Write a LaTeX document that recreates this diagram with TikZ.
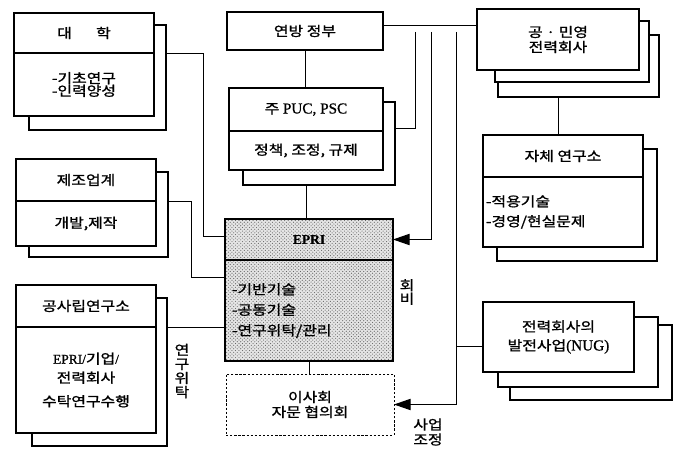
\documentclass[tikz,border=0pt]{standalone}
\usepackage{fontspec}
\setmainfont{Noto Sans CJK KR}[FakeStretch=1.18, FakeBold=1.2]
\newfontfamily\latfont{Liberation Serif}[FakeBold=0.8]
\newcommand{\lat}[1]{{\latfont #1}}
\usetikzlibrary{
  arrows.meta,
  positioning,
  calc,
  fit,
  patterns
}
\newlength{\pu}
\setlength{\pu}{0.3mm}
\tikzset{
  box/.style={
    draw, fill=white, line width=0.9pt, outer sep=0pt, inner sep=2pt,
    align=center, font=\fontsize{11.5}{14}\selectfont
  },
  backcard/.style={draw, fill=white, line width=0.9pt, inner sep=0pt, outer sep=0pt},
  dashbox/.style={box, dash pattern=on 2pt off 1.5pt, line width=0.8pt},
  epribox/.style={box, preaction={fill=black!10}, pattern=crosshatch dots, pattern color=black!60},
  lsep/.style={font=\fontsize{11.5}{#1}\selectfont},
  link/.style={line width=0.8pt},
  feed/.style={link, -{Triangle[length=5mm, width=3.4mm]}},
  tag/.style={align=center, inner sep=0pt, font=\fontsize{11.5}{14}\selectfont}
}

\begin{document}
\begin{tikzpicture}[x=0.3mm, y=-0.3mm]
  \useasboundingbox (0,0) rectangle (676,449);

  % cards behind the boxes
  \node[backcard, fit={(29,25) (166,130)}] (univ-bk) {};
  \node[backcard, fit={(29,172) (168,257)}] (maker-bk) {};
  \node[backcard, fit={(32,298) (167,446)}] (inst-bk) {};
  \node[backcard, fit={(243,102) (395,185)}] (puc-bk) {};
  \node[backcard, fit={(498,35) (659,97)}] (util-bk2) {};
  \node[backcard, fit={(495,21) (649,82)}] (util-bk1) {};
  \node[backcard, fit={(497,149) (657,261)}] (own-bk) {};
  \node[backcard, fit={(510,325) (672,400)}] (nug-bk2) {};
  \node[backcard, fit={(498,317) (658,387)}] (nug-bk1) {};

  % left column
  \node[box, minimum width=140\pu, minimum height=40\pu] (univ-h) at (84,33) {대\hspace{1.8em}학};
  \node[box, minimum width=140\pu, minimum height=63\pu, below=0pt of univ-h, lsep=10.8pt] (univ-b) {-기초연구\\-인력양성};

  \node[box, minimum width=140\pu, minimum height=42\pu] (maker-h) at (86,180) {제조업계};
  \node[box, minimum width=140\pu, minimum height=45\pu, below=0pt of maker-h] (maker-b) {개발,제작};

  \node[box, minimum width=140\pu, minimum height=42\pu] (inst-h) at (86,306) {공사립연구소};
  \node[box, minimum width=140\pu, minimum height=106\pu, below=0pt of inst-h, lsep=16.2pt] (inst-b) {\lat{EPRI/}기업\lat{/}\\전력회사\\[4pt]수탁연구수행};

  % middle column
  \node[box, minimum width=156\pu, minimum height=38\pu] (fed) at (305,31) {연방 정부};
  \node[box, minimum width=154\pu, minimum height=43\pu] (puc-h) at (306,109.5) {주 \lat{\fontsize{13}{14}\selectfont PUC, PSC}};
  \node[box, minimum width=154\pu, minimum height=39\pu, below=0pt of puc-h] (puc-b) {정책, 조정, 규제};

  \node[epribox, minimum width=168\pu, minimum height=41\pu] (epri-h) at (309,239.5) {\lat{\bfseries EPRI}};
  \node[epribox, minimum width=168\pu, minimum height=101\pu, text width=154\pu, inner xsep=7\pu, align=left, below=0pt of epri-h, lsep=17.5pt] (epri-b) {-기반기술\\-공동기술\\-연구위탁/관리};

  \node[dashbox, minimum width=168\pu, minimum height=61\pu, lsep=12.8pt] (board) at (310,404.5) {이사회\\자문 협의회};

  % right column
  \node[box, minimum width=162\pu, minimum height=61\pu, lsep=12.8pt] (util) at (558,39.5) {공 · 민영\\전력회사};
  \node[box, minimum width=160\pu, minimum height=42\pu] (own-h) at (563,156) {자체 연구소};
  \node[box, minimum width=160\pu, minimum height=70\pu, text width=154\pu, inner xsep=3\pu, align=left, below=0pt of own-h, lsep=17pt] (own-b) {-적용기술\\-경영/현실문제};
  \node[box, minimum width=151\pu, minimum height=70\pu, lsep=16.2pt] (nug) at (558.5,337) {전력회사의\\발전사업\lat{\fontsize{13}{14}\selectfont(NUG)}};

  % labels
  \node[tag, lsep=9.8pt] (fee) at (407,292) {회\\비};
  \node[tag, lsep=12.8pt] (adjust) at (428,432) {사업\\조정};
  \node[tag, lsep=12pt] (contract) at (182,371) {연\\구\\위\\탁};

  % junctions
  \coordinate (j1) at (203,236);
  \coordinate (j2) at (191,277);
  \coordinate (v1) at (415,32);
  \coordinate (v2) at (431,32);
  \coordinate (v3) at (456,32);

  % links into EPRI
  \draw[link] (univ-bk.east |- univ-h.south) -| (j1) -- (j1 -| epri-h.west);
  \draw[link] (maker-bk.east |- maker-h.south) -| (j2) -- (j2 -| epri-b.west);
  \draw[link] (inst-bk.east |- inst-h.south) -- (inst-h.south -| epri-b.west);
  \draw[link] (fed.south) -- (fed.south |- puc-h.north);
  \draw[link] (puc-b.south |- puc-bk.south) -- (puc-b.south |- epri-h.north);
  \draw[link] (epri-b.south) -- (epri-b.south |- board.north);
  \draw[link] ($(fed.east)+(0,-6)$) coordinate (f1) -- (f1 -| util.west);
  \draw[link] (util.south |- util-bk2.south) -- (util.south |- own-h.north);

  % right-hand feeds
  \draw[link] (v1) |- ($(puc-bk.north east)+(0,26)$);
  \draw[feed] (v2) |- (epri-h.east);
  \draw[feed] (v3) |- (board.east);
  \draw[link] ($(nug.west)+(0,9)$) coordinate (n1) -- (n1 -| v3);
\end{tikzpicture}
\end{document}
